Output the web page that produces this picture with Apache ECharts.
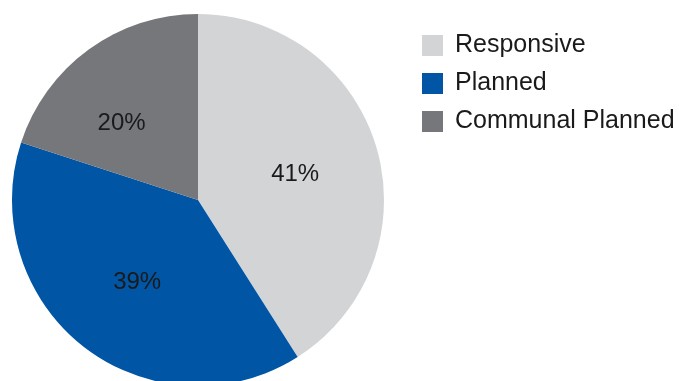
<!DOCTYPE html>
<html>
<head>
<meta charset="utf-8">
<script src="https://cdn.jsdelivr.net/npm/echarts@6/dist/echarts.min.js"></script>
<style>
html,body{margin:0;padding:0;background:#fff;}
#chart{width:679px;height:381px;}
</style>
</head>
<body>
<div id="chart"></div>
<script>
const categories = ['Responsive', 'Planned', 'Communal Planned'];
const values = [41, 39, 20];
const colors = ['#d3d4d6', '#0055a5', '#76777b'];
const labelOffsets = [[5, 1], [-2, 7], [-20, 1]];

const chart = echarts.init(document.getElementById('chart'), null, {renderer: 'canvas'});
chart.setOption({
  animation: false,
  legend: {
    orient: 'vertical',
    left: 422,
    top: 33,
    padding: 0,
    itemWidth: 21,
    itemHeight: 21,
    itemGap: 13,
    icon: 'rect',
    textStyle: {fontFamily: 'Liberation Sans', fontSize: 25, color: '#1a1a1a', padding: [0, 0, 0, 7]},
    data: categories
  },
  series: [{
    type: 'pie',
    center: [198, 200],
    radius: 186,
    startAngle: 90,
    clockwise: true,
    silent: true,
    label: {
      position: 'inside',
      formatter: '{c}%',
      fontFamily: 'Liberation Sans',
      fontSize: 24,
      color: '#1a1a1a'
    },
    labelLine: {show: false},
    data: categories.map((c, i) => ({
      name: c,
      value: values[i],
      itemStyle: {color: colors[i]},
      label: {offset: labelOffsets[i]}
    }))
  }]
});
</script>
</body>
</html>
